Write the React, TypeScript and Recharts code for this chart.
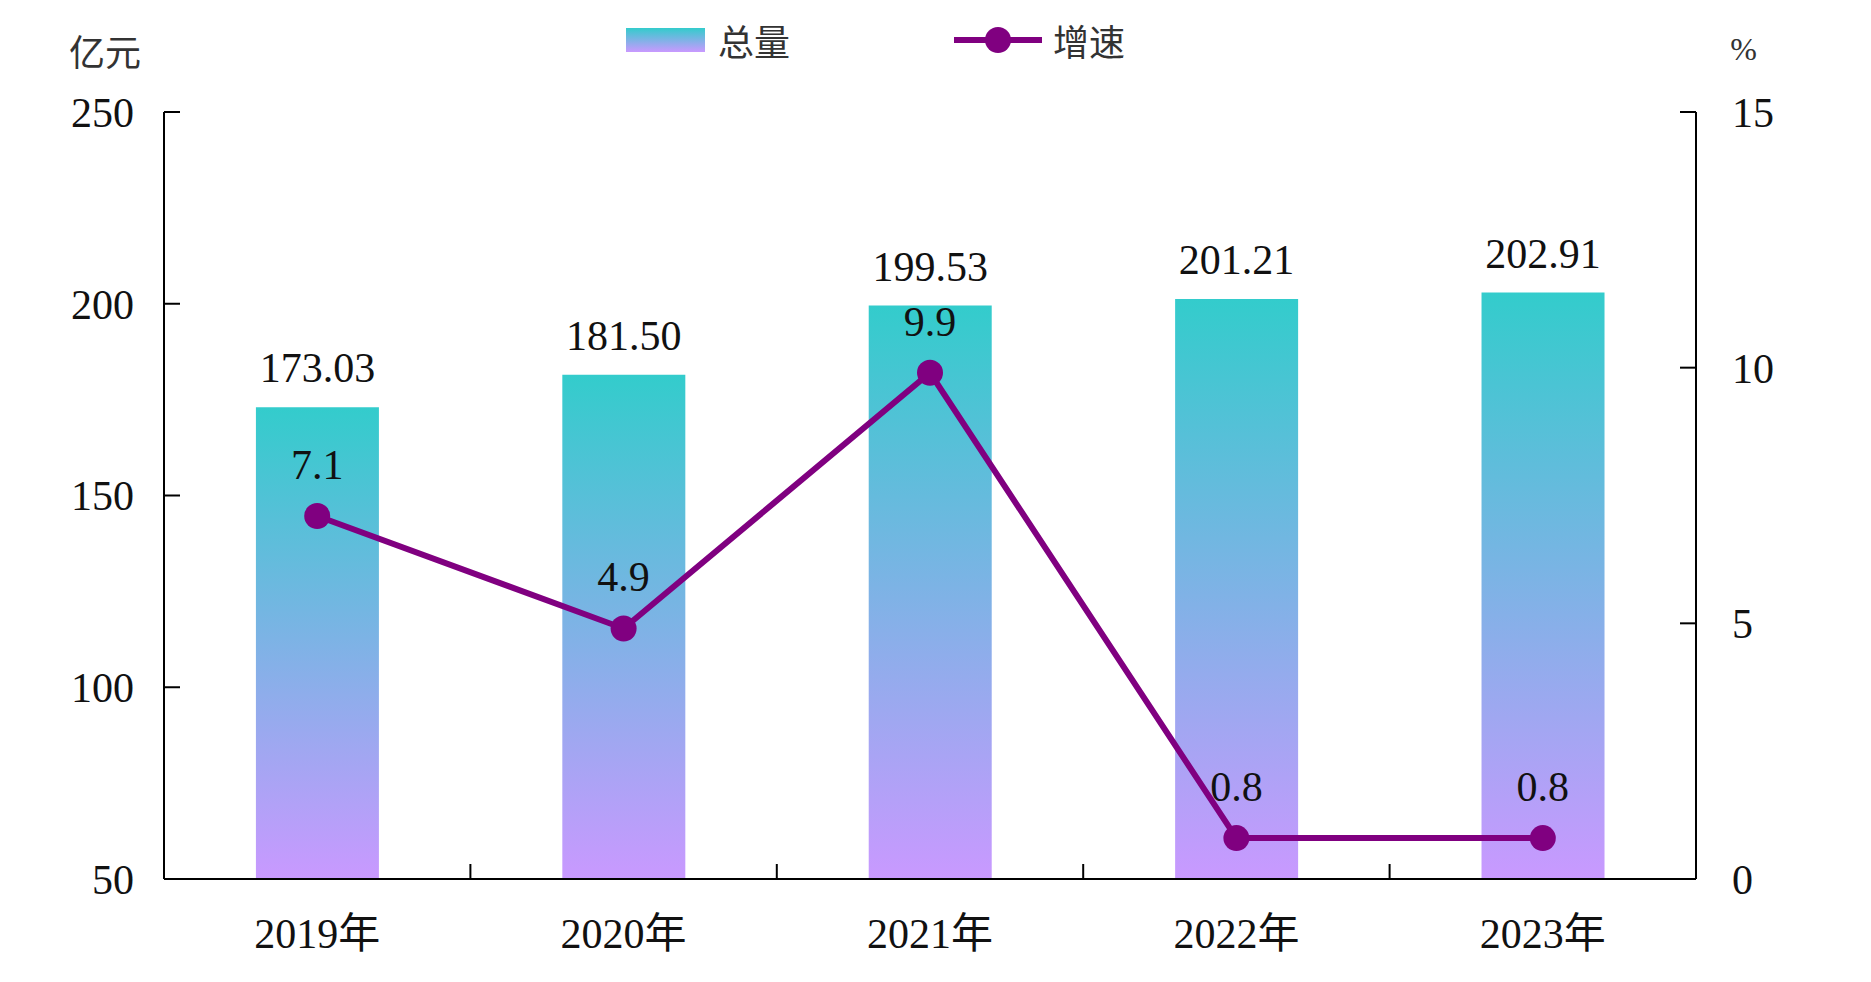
import React from "react";
import {
  ComposedChart,
  Bar,
  Line,
  XAxis,
  YAxis,
  Legend,
  LabelList,
} from "recharts";

// categories and series
const years = ["2019年", "2020年", "2021年", "2022年", "2023年"];
const totals = [173.03, 181.5, 199.53, 201.21, 202.91];
const growth = [7.1, 4.9, 9.9, 0.8, 0.8];

// axis ticks
const leftTicks = [50, 100, 150, 200, 250];
const rightTicks = [0, 5, 10, 15];
const dividerTicks = [1, 2, 3, 4];

const data = years.map((year, i) => ({
  year,
  total: totals[i],
  growth: growth[i],
}));

const legendOrder = ["total", "growth"];

const SERIF = '"Liberation Serif", "Times New Roman", "Noto Sans CJK SC", serif';
const CJK = '"Noto Sans CJK SC", "Liberation Serif", sans-serif';
const PURPLE = "#800080";
const TEAL = "#33CCCC";
const LILAC = "#C999FF";

const tickStyle = { fontSize: 42, fill: "#111", fontFamily: SERIF };

// legend: gradient swatch for the bars, line with dot for the growth rate
const LegendContent = ({ payload }: any) => {
  const items = [...(payload || [])].sort(
    (a: any, b: any) =>
      legendOrder.indexOf(a.dataKey) - legendOrder.indexOf(b.dataKey)
  );
  return (
    <div
      style={{
        display: "flex",
        alignItems: "center",
        fontFamily: CJK,
        fontSize: 36,
        color: "#333",
        lineHeight: 1,
      }}
    >
      {items.map((entry: any) =>
        entry.dataKey === "growth" ? (
          <div key="growth" style={{ display: "flex", alignItems: "center" }}>
            <svg width={88} height={28}>
              <line x1={0} y1={14} x2={88} y2={14} stroke={PURPLE} strokeWidth={6} />
              <circle cx={44} cy={14} r={13} fill={PURPLE} />
            </svg>
            <span style={{ marginLeft: 11 }}>{entry.value}</span>
          </div>
        ) : (
          <div
            key="total"
            style={{ display: "flex", alignItems: "center", marginRight: 164 }}
          >
            <div
              style={{
                width: 79,
                height: 24,
                background: `linear-gradient(${TEAL}, ${LILAC})`,
              }}
            />
            <span style={{ marginLeft: 13 }}>{entry.value}</span>
          </div>
        )
      )}
    </div>
  );
};

// tick mark only, no text
const EmptyTick = () => <g />;

export default function App() {
  return (
    <div
      style={{
        position: "absolute",
        left: 0,
        top: 0,
        width: 1871,
        height: 982,
        background: "#fff",
      }}
    >
      <ComposedChart
        width={1871}
        height={982}
        data={data}
        margin={{ top: 112, right: 0, bottom: 0, left: 0 }}
        barCategoryGap="30%"
      >
        <defs>
          <linearGradient id="barGrad" x1="0" y1="0" x2="0" y2="1">
            <stop offset="0%" stopColor={TEAL} />
            <stop offset="100%" stopColor={LILAC} />
          </linearGradient>
        </defs>
        <XAxis
          dataKey="year"
          height={103}
          interval={0}
          axisLine={{ stroke: "#000", strokeWidth: 2 }}
          tickLine={false}
          tickSize={0}
          tickMargin={39}
          tick={tickStyle}
        />
        {/* short upward ticks between the categories */}
        <XAxis
          xAxisId="sep"
          type="number"
          dataKey="idx"
          domain={[0, 5]}
          allowDataOverflow
          ticks={dividerTicks}
          interval={0}
          mirror
          height={20}
          axisLine={false}
          tick={<EmptyTick />}
          tickSize={15}
          tickLine={{ stroke: "#000", strokeWidth: 2 }}
        />
        <YAxis
          yAxisId="left"
          width={164}
          domain={[50, 250]}
          ticks={leftTicks}
          axisLine={{ stroke: "#000", strokeWidth: 2 }}
          tickLine={{ stroke: "#000", strokeWidth: 2 }}
          tickSize={-16}
          tickMargin={46}
          tick={tickStyle}
          label={{
            value: "亿元",
            position: "top",
            offset: 46,
            dx: 23,
            fontSize: 36,
            fill: "#333",
            fontFamily: CJK,
          }}
        />
        <YAxis
          yAxisId="right"
          orientation="right"
          width={175}
          domain={[0, 15]}
          ticks={rightTicks}
          axisLine={{ stroke: "#000", strokeWidth: 2 }}
          tickLine={{ stroke: "#000", strokeWidth: 2 }}
          tickSize={-16}
          tickMargin={52}
          tick={tickStyle}
          label={{
            value: "%",
            position: "top",
            offset: 52,
            dx: -40,
            fontSize: 32,
            fill: "#333",
            fontFamily: SERIF,
          }}
        />
        <Legend
          layout="horizontal"
          verticalAlign="middle"
          align="center"
          content={<LegendContent />}
          wrapperStyle={{ top: 22, left: 626, width: "auto", height: "auto" }}
        />
        <Bar
          yAxisId="left"
          dataKey="total"
          name="总量"
          fill="url(#barGrad)"
          isAnimationActive={false}
        >
          <LabelList
            dataKey="total"
            position="top"
            offset={25}
            formatter={(v: any) => Number(v).toFixed(2)}
            fill="#111"
            fontSize={42}
            fontFamily={SERIF}
          />
        </Bar>
        <Line
          yAxisId="right"
          dataKey="growth"
          name="增速"
          stroke={PURPLE}
          strokeWidth={6}
          dot={{ r: 13, fill: PURPLE, stroke: PURPLE, strokeWidth: 0 }}
          activeDot={false}
          isAnimationActive={false}
        >
          <LabelList
            dataKey="growth"
            position="top"
            offset={37}
            formatter={(v: any) => Number(v).toFixed(1)}
            fill="#111"
            fontSize={42}
            fontFamily={SERIF}
          />
        </Line>
      </ComposedChart>
    </div>
  );
}
